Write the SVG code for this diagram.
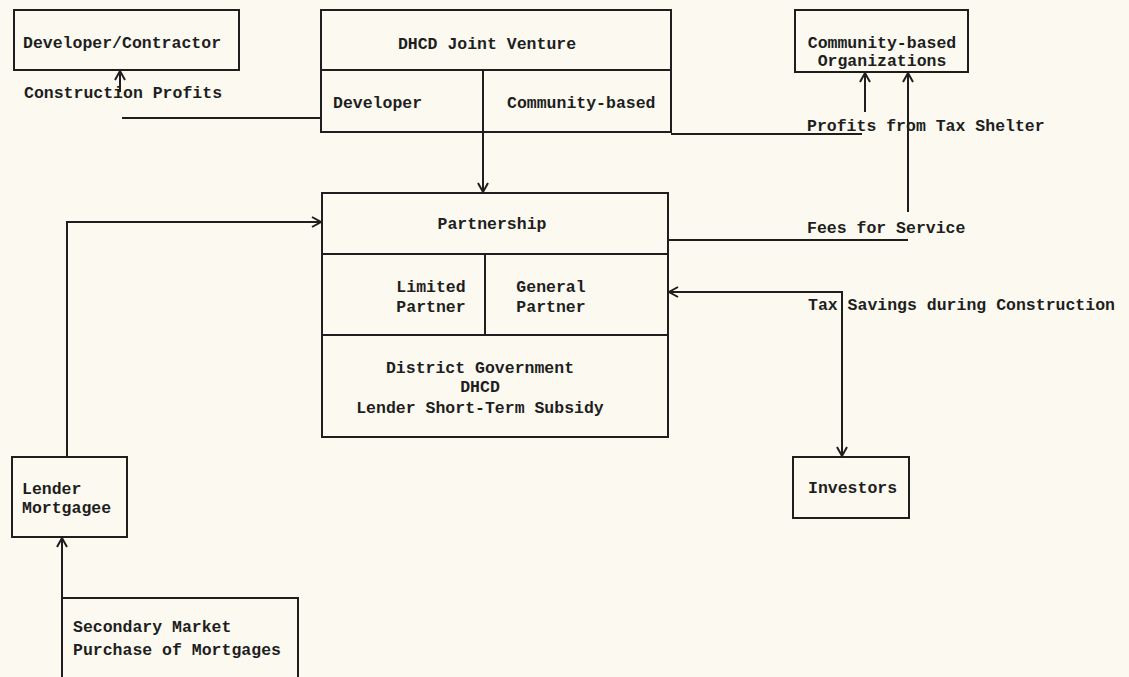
<svg xmlns="http://www.w3.org/2000/svg" width="1129" height="677" viewBox="0 0 1129 677">
<style>
.bx{fill:none;stroke:#1e1e1e;stroke-width:2}
.ln{fill:none;stroke:#1e1e1e;stroke-width:2}
text{font-family:"Liberation Mono","DejaVu Sans Mono",monospace;font-weight:bold;font-size:16.5px;fill:#1e1e1e}
.c{text-anchor:middle}
</style>
<defs>
<marker id="ah" markerUnits="userSpaceOnUse" markerWidth="14" markerHeight="14" refX="10" refY="6" orient="auto-start-reverse">
<path d="M1,1 L10,6 L1,11" fill="none" stroke="#1e1e1e" stroke-width="2"/>
</marker>
</defs>
<rect width="1129" height="677" fill="#fbf9f0"/>

<g id="developer-contractor">
<rect class="bx" x="14" y="10" width="225" height="60"/>
<text x="23" y="48">Developer/Contractor</text>
</g>

<g id="dhcd-joint-venture">
<rect class="bx" x="321" y="10" width="350" height="122"/>
<line class="ln" x1="321" y1="70" x2="671" y2="70"/>
<line class="ln" x1="483" y1="70" x2="483" y2="132"/>
<text class="c" x="487" y="49">DHCD Joint Venture</text>
<text x="333" y="108">Developer</text>
<text x="507" y="108">Community-based</text>
</g>

<g id="community-orgs">
<rect class="bx" x="795" y="10" width="173" height="62"/>
<text class="c" x="882" y="48">Community-based</text>
<text class="c" x="882" y="66">Organizations</text>
</g>

<g id="partnership">
<rect class="bx" x="322" y="193" width="346" height="244"/>
<line class="ln" x1="322" y1="254" x2="668" y2="254"/>
<line class="ln" x1="322" y1="335" x2="668" y2="335"/>
<line class="ln" x1="485" y1="254" x2="485" y2="335"/>
<text class="c" x="492" y="229">Partnership</text>
<text class="c" x="431" y="292">Limited</text>
<text class="c" x="431" y="312">Partner</text>
<text class="c" x="551" y="292">General</text>
<text class="c" x="551" y="312">Partner</text>
<text class="c" x="480" y="373">District Government</text>
<text class="c" x="480" y="392">DHCD</text>
<text class="c" x="480" y="413">Lender Short-Term Subsidy</text>
</g>

<g id="lender-mortgagee">
<rect class="bx" x="12" y="457" width="115" height="80"/>
<text x="22" y="494">Lender</text>
<text x="22" y="513">Mortgagee</text>
</g>

<g id="secondary-market">
<rect class="bx" x="62" y="598" width="236" height="90"/>
<text x="73" y="632">Secondary Market</text>
<text x="73" y="655">Purchase of Mortgages</text>
</g>

<g id="investors">
<rect class="bx" x="793" y="457" width="116" height="61"/>
<text x="808" y="493">Investors</text>
</g>

<g id="connectors">
<line class="ln" x1="120" y1="92" x2="120" y2="71" marker-end="url(#ah)"/>
<line class="ln" x1="122" y1="118" x2="321" y2="118"/>
<line class="ln" x1="483" y1="132" x2="483" y2="192" marker-end="url(#ah)"/>
<line class="ln" x1="671" y1="134" x2="862" y2="134"/>
<line class="ln" x1="865" y1="112" x2="865" y2="73" marker-end="url(#ah)"/>
<line class="ln" x1="908" y1="212" x2="908" y2="73" marker-end="url(#ah)"/>
<line class="ln" x1="668" y1="240" x2="908" y2="240"/>
<polyline class="ln" points="67,457 67,222 321,222" marker-end="url(#ah)"/>
<polyline class="ln" points="669,292 842,292 842,456" marker-start="url(#ah)" marker-end="url(#ah)"/>
<line class="ln" x1="62" y1="598" x2="62" y2="538" marker-end="url(#ah)"/>
<text x="24" y="98">Construction Profits</text>
<text x="807" y="131">Profits from Tax Shelter</text>
<text x="807" y="233">Fees for Service</text>
<text x="808" y="310">Tax Savings during Construction</text>
</g>
</svg>
